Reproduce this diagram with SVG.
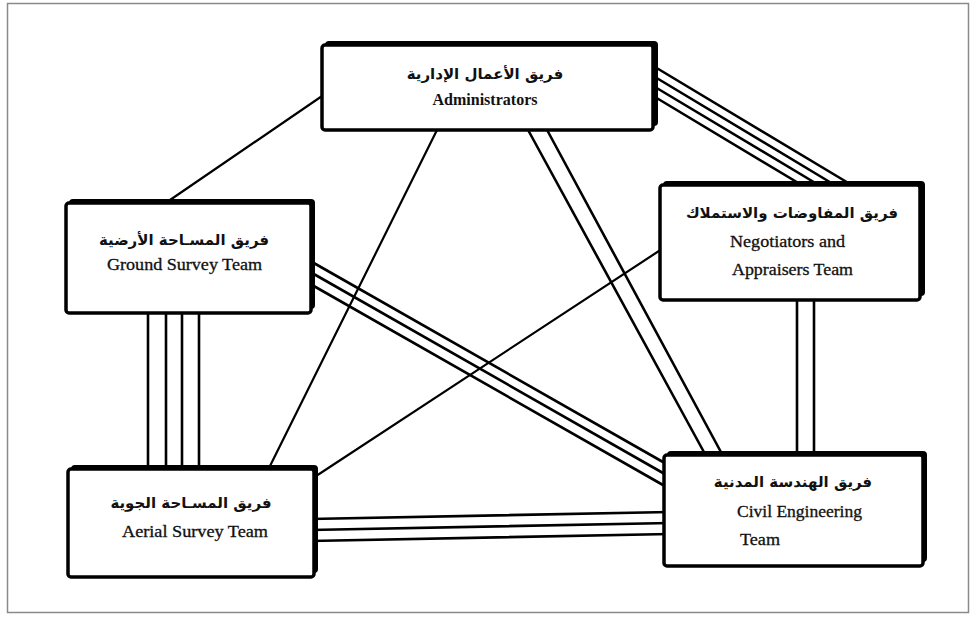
<svg xmlns="http://www.w3.org/2000/svg" width="977" height="621" viewBox="0 0 977 621">
<style>
.frame{fill:#fff;stroke:#8a8a8a;stroke-width:1.5}
.c{stroke:#000;stroke-width:2.6;fill:none;stroke-linecap:round}
.c1{stroke:#000;stroke-width:2.2;fill:none;stroke-linecap:round}
.sh{fill:#000}
.bx{fill:#fff;stroke:#000;stroke-width:3.5}
.ar{font-family:"DejaVu Sans",sans-serif;font-weight:bold;font-size:15px;fill:#111;text-anchor:middle}
.en{font-family:"Liberation Serif","Times New Roman",serif;font-size:16px;fill:#111;stroke:#111;stroke-width:0.3}
.enb{font-family:"Liberation Serif","Times New Roman",serif;font-size:16px;font-weight:bold;fill:#111}
</style>
<rect class="frame" x="7.5" y="3.5" width="961" height="609"/>
<g id="connectors">
  <line class="c1" x1="325" y1="94" x2="170" y2="200"/>
  <line class="c1" x1="438" y1="128" x2="268" y2="470"/>
  <line class="c" x1="527" y1="128" x2="705" y2="454"/>
  <line class="c" x1="546" y1="128" x2="722" y2="454"/>
  <line class="c" x1="650" y1="64" x2="860" y2="190"/>
  <line class="c" x1="650" y1="74" x2="843" y2="190"/>
  <line class="c" x1="650" y1="84" x2="827" y2="190"/>
  <line class="c" x1="650" y1="94" x2="810" y2="190"/>
  <line class="c" x1="148" y1="308" x2="148" y2="472"/>
  <line class="c" x1="166" y1="308" x2="166" y2="472"/>
  <line class="c" x1="182" y1="308" x2="182" y2="472"/>
  <line class="c" x1="199" y1="308" x2="199" y2="472"/>
  <line class="c" x1="305" y1="258" x2="670" y2="466"/>
  <line class="c" x1="305" y1="269" x2="670" y2="477"/>
  <line class="c" x1="305" y1="281" x2="670" y2="489"/>
  <line class="c1" x1="665" y1="247" x2="310" y2="480"/>
  <line class="c" x1="797" y1="296" x2="797" y2="458"/>
  <line class="c" x1="814" y1="296" x2="814" y2="458"/>
  <line class="c" x1="310" y1="519" x2="670" y2="512"/>
  <line class="c" x1="310" y1="530" x2="670" y2="523"/>
  <line class="c" x1="310" y1="541" x2="670" y2="534"/>
</g>
<g id="admin">
  <rect class="sh" x="325" y="41" width="333" height="85" rx="4"/>
  <rect class="bx" x="322" y="45" width="331" height="85" rx="3"/>
  <text class="ar" x="485" y="79">فريق الأعمال الإدارية</text>
  <text class="enb" x="485" y="105" text-anchor="middle" textLength="105" lengthAdjust="spacingAndGlyphs">Administrators</text>
</g>
<g id="ground">
  <rect class="sh" x="69" y="199" width="246" height="110" rx="4"/>
  <rect class="bx" x="66" y="203" width="245" height="110" rx="3"/>
  <text class="ar" x="184" y="245">فريق المسـاحة الأرضية</text>
  <text class="en" x="107" y="270" textLength="155" lengthAdjust="spacingAndGlyphs">Ground Survey Team</text>
</g>
<g id="negotiators">
  <rect class="sh" x="663" y="181" width="262" height="115" rx="4"/>
  <rect class="bx" x="660" y="185" width="260" height="115" rx="3"/>
  <text class="ar" x="792" y="218">فريق المفاوضات والاستملاك</text>
  <text class="en" x="730" y="247" textLength="115" lengthAdjust="spacingAndGlyphs">Negotiators and</text>
  <text class="en" x="732" y="275" textLength="121" lengthAdjust="spacingAndGlyphs">Appraisers Team</text>
</g>
<g id="aerial">
  <rect class="sh" x="71" y="465" width="247" height="108" rx="4"/>
  <rect class="bx" x="68" y="469" width="246" height="108" rx="3"/>
  <text class="ar" x="191" y="508">فريق المسـاحة الجوية</text>
  <text class="en" x="122" y="537" textLength="146" lengthAdjust="spacingAndGlyphs">Aerial Survey Team</text>
</g>
<g id="civil">
  <rect class="sh" x="667" y="451" width="260" height="111" rx="4"/>
  <rect class="bx" x="664" y="455" width="259" height="111" rx="3"/>
  <text class="ar" x="793" y="487">فريق الهندسة المدنية</text>
  <text class="en" x="737" y="517" textLength="125" lengthAdjust="spacingAndGlyphs">Civil Engineering</text>
  <text class="en" x="740" y="545" textLength="40" lengthAdjust="spacingAndGlyphs">Team</text>
</g>
</svg>
